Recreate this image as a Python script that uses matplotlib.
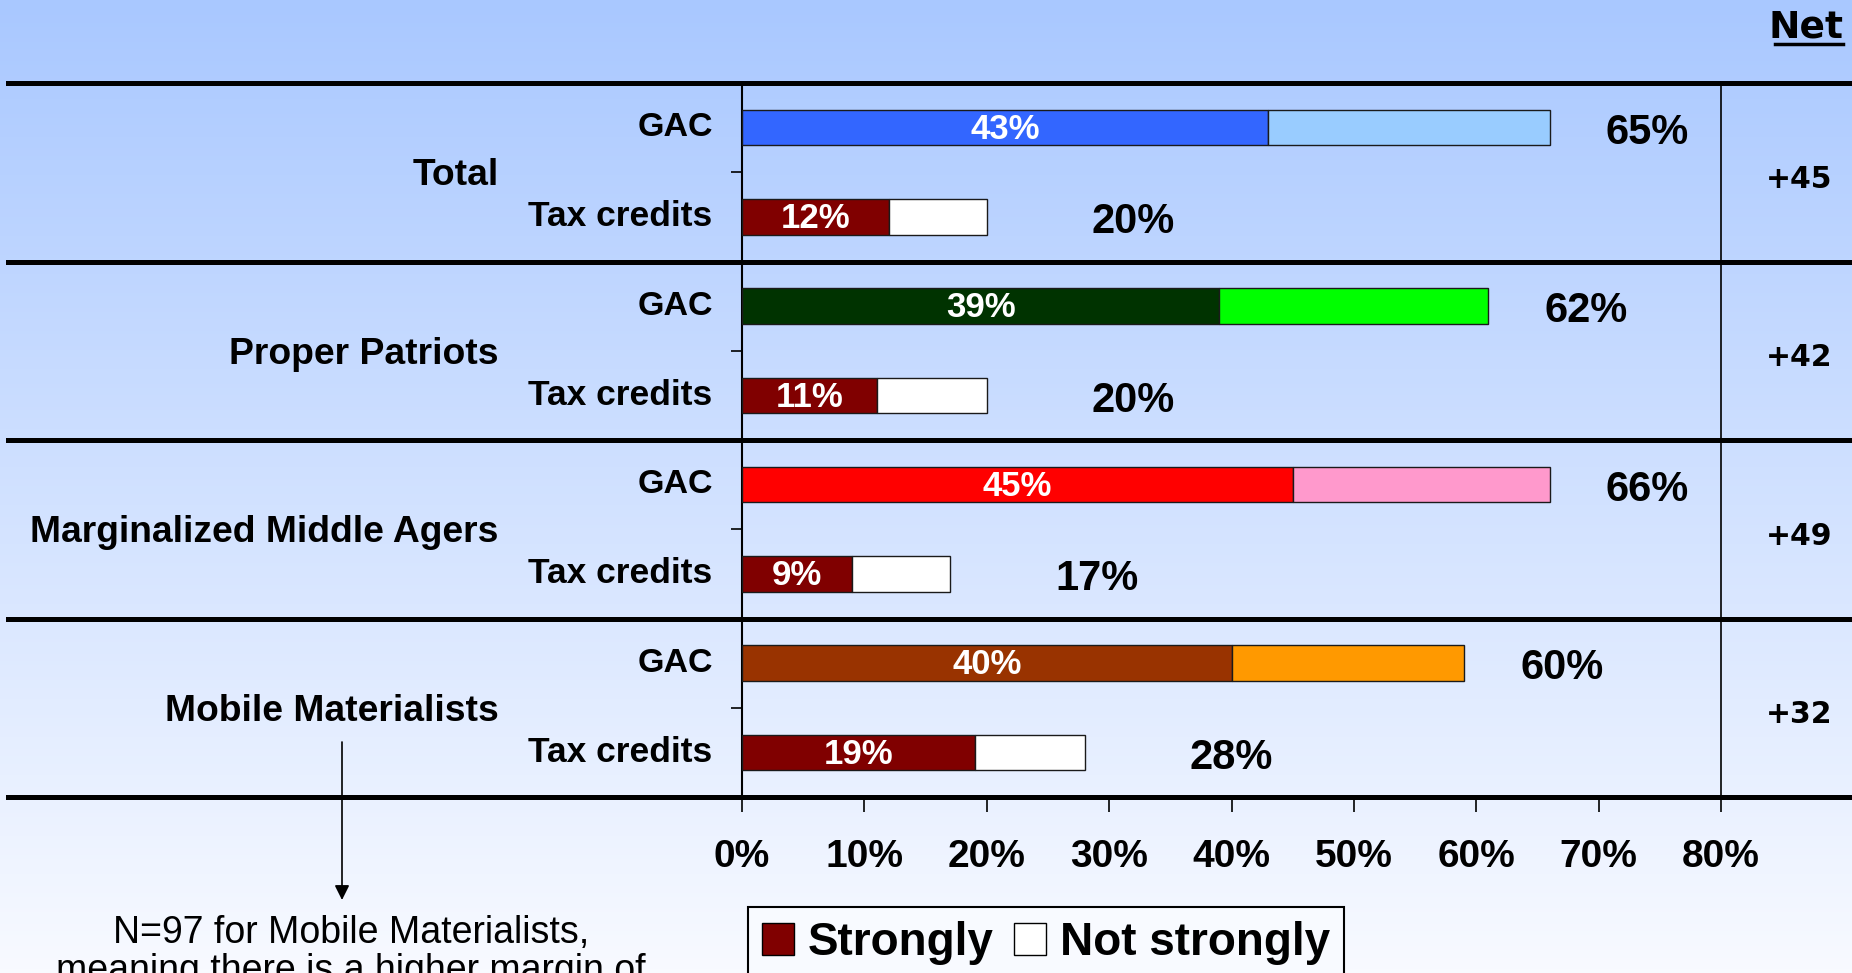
import numpy as np
import matplotlib.pyplot as plt
from matplotlib.lines import Line2D
from matplotlib.patches import Patch
from matplotlib.colors import LinearSegmentedColormap

plt.rcParams['font.family'] = ['Liberation Sans', 'DejaVu Sans']
plt.rcParams['font.weight'] = 'bold'

# data
segments = ['Total', 'Proper Patriots', 'Marginalized Middle Agers', 'Mobile Materialists']
items = ['GAC', 'Tax credits']
strongly = [43, 12, 39, 11, 45, 9, 40, 19]
not_strongly = [23, 8, 22, 9, 21, 8, 19, 9]
totals = ['65%', '20%', '62%', '20%', '66%', '17%', '60%', '28%']
net = ['+45', '+42', '+49', '+32']
xticks = [0, 10, 20, 30, 40, 50, 60, 70, 80]

strong_colors = ['#3366FF', '#800000', '#003300', '#800000',
                 '#FF0000', '#800000', '#993300', '#800000']
light_colors = ['#99CCFF', 'white', '#00FF00', 'white',
                '#FF99CC', 'white', '#FF9900', 'white']

W, H = 1852, 973
fig = plt.figure(figsize=(W / 100, H / 100), dpi=100)

# background gradient
bg = fig.add_axes([0, 0, 1, 1])
cmap = LinearSegmentedColormap.from_list('bg', ['#A9C8FF', '#F8FAFF'])
bg.imshow(np.linspace(0, 1, 256).reshape(-1, 1), aspect='auto', cmap=cmap,
          extent=[0, 1, 0, 1])
bg.axis('off')

ax_l, ax_r, ax_t, ax_b = 742, 1721, 83, 797
ax = fig.add_axes([ax_l / W, 1 - ax_b / H, (ax_r - ax_l) / W, (ax_b - ax_t) / H])
ax.patch.set_alpha(0)

ypos = np.arange(8) / 2 + 0.25
ends = np.array(strongly) + np.array(not_strongly)

ax.barh(ypos, strongly, height=0.2, color=strong_colors, edgecolor='#1a1a1a', lw=1, zorder=3)
ax.barh(ypos, not_strongly, left=strongly, height=0.2, color=light_colors,
        edgecolor='#1a1a1a', lw=1, zorder=3)

for i in range(8):
    ax.text(strongly[i] / 2, ypos[i] + 0.01, f'{strongly[i]}%', color='white', ha='center',
            va='center', fontsize=25, zorder=4)
    off = 8 if i % 2 == 0 else 12
    ax.text(ends[i] + off, ypos[i] + 0.03, totals[i], ha='center', va='center', fontsize=30)
    ax.text(-2.4, ypos[i], items[i % 2], ha='right', va='center',
            fontsize=24.5 if i % 2 == 0 else 25.5, clip_on=False)

for j, seg in enumerate(segments):
    ax.text(-19.9, j + 0.52, seg, ha='right', va='center', fontsize=26.8, clip_on=False)
    ax.text(86.4, j + 0.54, net[j], ha='center', va='center', fontsize=21.5,
            family='DejaVu Sans', clip_on=False)

for y in range(5):
    ax.axhline(y, xmin=(8 - ax_l) / (ax_r - ax_l), xmax=(W - ax_l) / (ax_r - ax_l),
               color='black', lw=3.6, clip_on=False, zorder=5)

ax.set_xlim(0, 80)
ax.set_ylim(4, 0)
ax.spines['top'].set_visible(False)
ax.spines['bottom'].set_visible(False)
ax.spines['left'].set_linewidth(1.5)
ax.spines['right'].set_linewidth(1.2)

ax.set_yticks([0.5, 1.5, 2.5, 3.5])
ax.set_yticklabels([])
ax.tick_params(axis='y', length=8, width=1.2, direction='out')
ax.set_xticks(xticks)
ax.set_xticklabels([f'{t}%' for t in xticks])
ax.tick_params(axis='x', length=11, width=1.2, pad=19, labelsize=28)

# Net header
fig.text(1843 / W, 1 - 38 / H, 'Net', ha='right', va='baseline', fontsize=27,
         family='DejaVu Sans')
fig.add_artist(Line2D([1775 / W, 1843 / W], [1 - 44 / H] * 2, color='black', lw=2.5))

# footnote arrow and text
ax.annotate('', xy=(342 / W, 1 - 900 / H), xytext=(342 / W, 1 - 742 / H),
            xycoords='figure fraction', textcoords='figure fraction',
            arrowprops=dict(arrowstyle='-|>', color='black', lw=1.2,
                            mutation_scale=22, shrinkA=0, shrinkB=0))
fig.text(351 / W, 1 - 933 / H, 'N=97 for Mobile Materialists,', ha='center', va='center',
         fontsize=27, fontweight='normal')
fig.text(351 / W, 1 - 971 / H, 'meaning there is a higher margin of', ha='center',
         va='center', fontsize=27, fontweight='normal')

handles = [Patch(facecolor='#800000', edgecolor='black'),
           Patch(facecolor='white', edgecolor='black')]
leg = fig.legend(handles, ['Strongly', 'Not strongly'], loc='upper left',
                 bbox_to_anchor=(748 / W, 1 - 907 / H), ncol=2, fontsize=33,
                 frameon=True, fancybox=False, edgecolor='black', facecolor='#F8FAFF',
                 framealpha=1, handlelength=0.7, handleheight=0.7, handletextpad=0.3,
                 columnspacing=0.45, borderpad=0.3, borderaxespad=0)
leg.get_frame().set_linewidth(1.5)

fig.savefig('out.png', dpi=100)
